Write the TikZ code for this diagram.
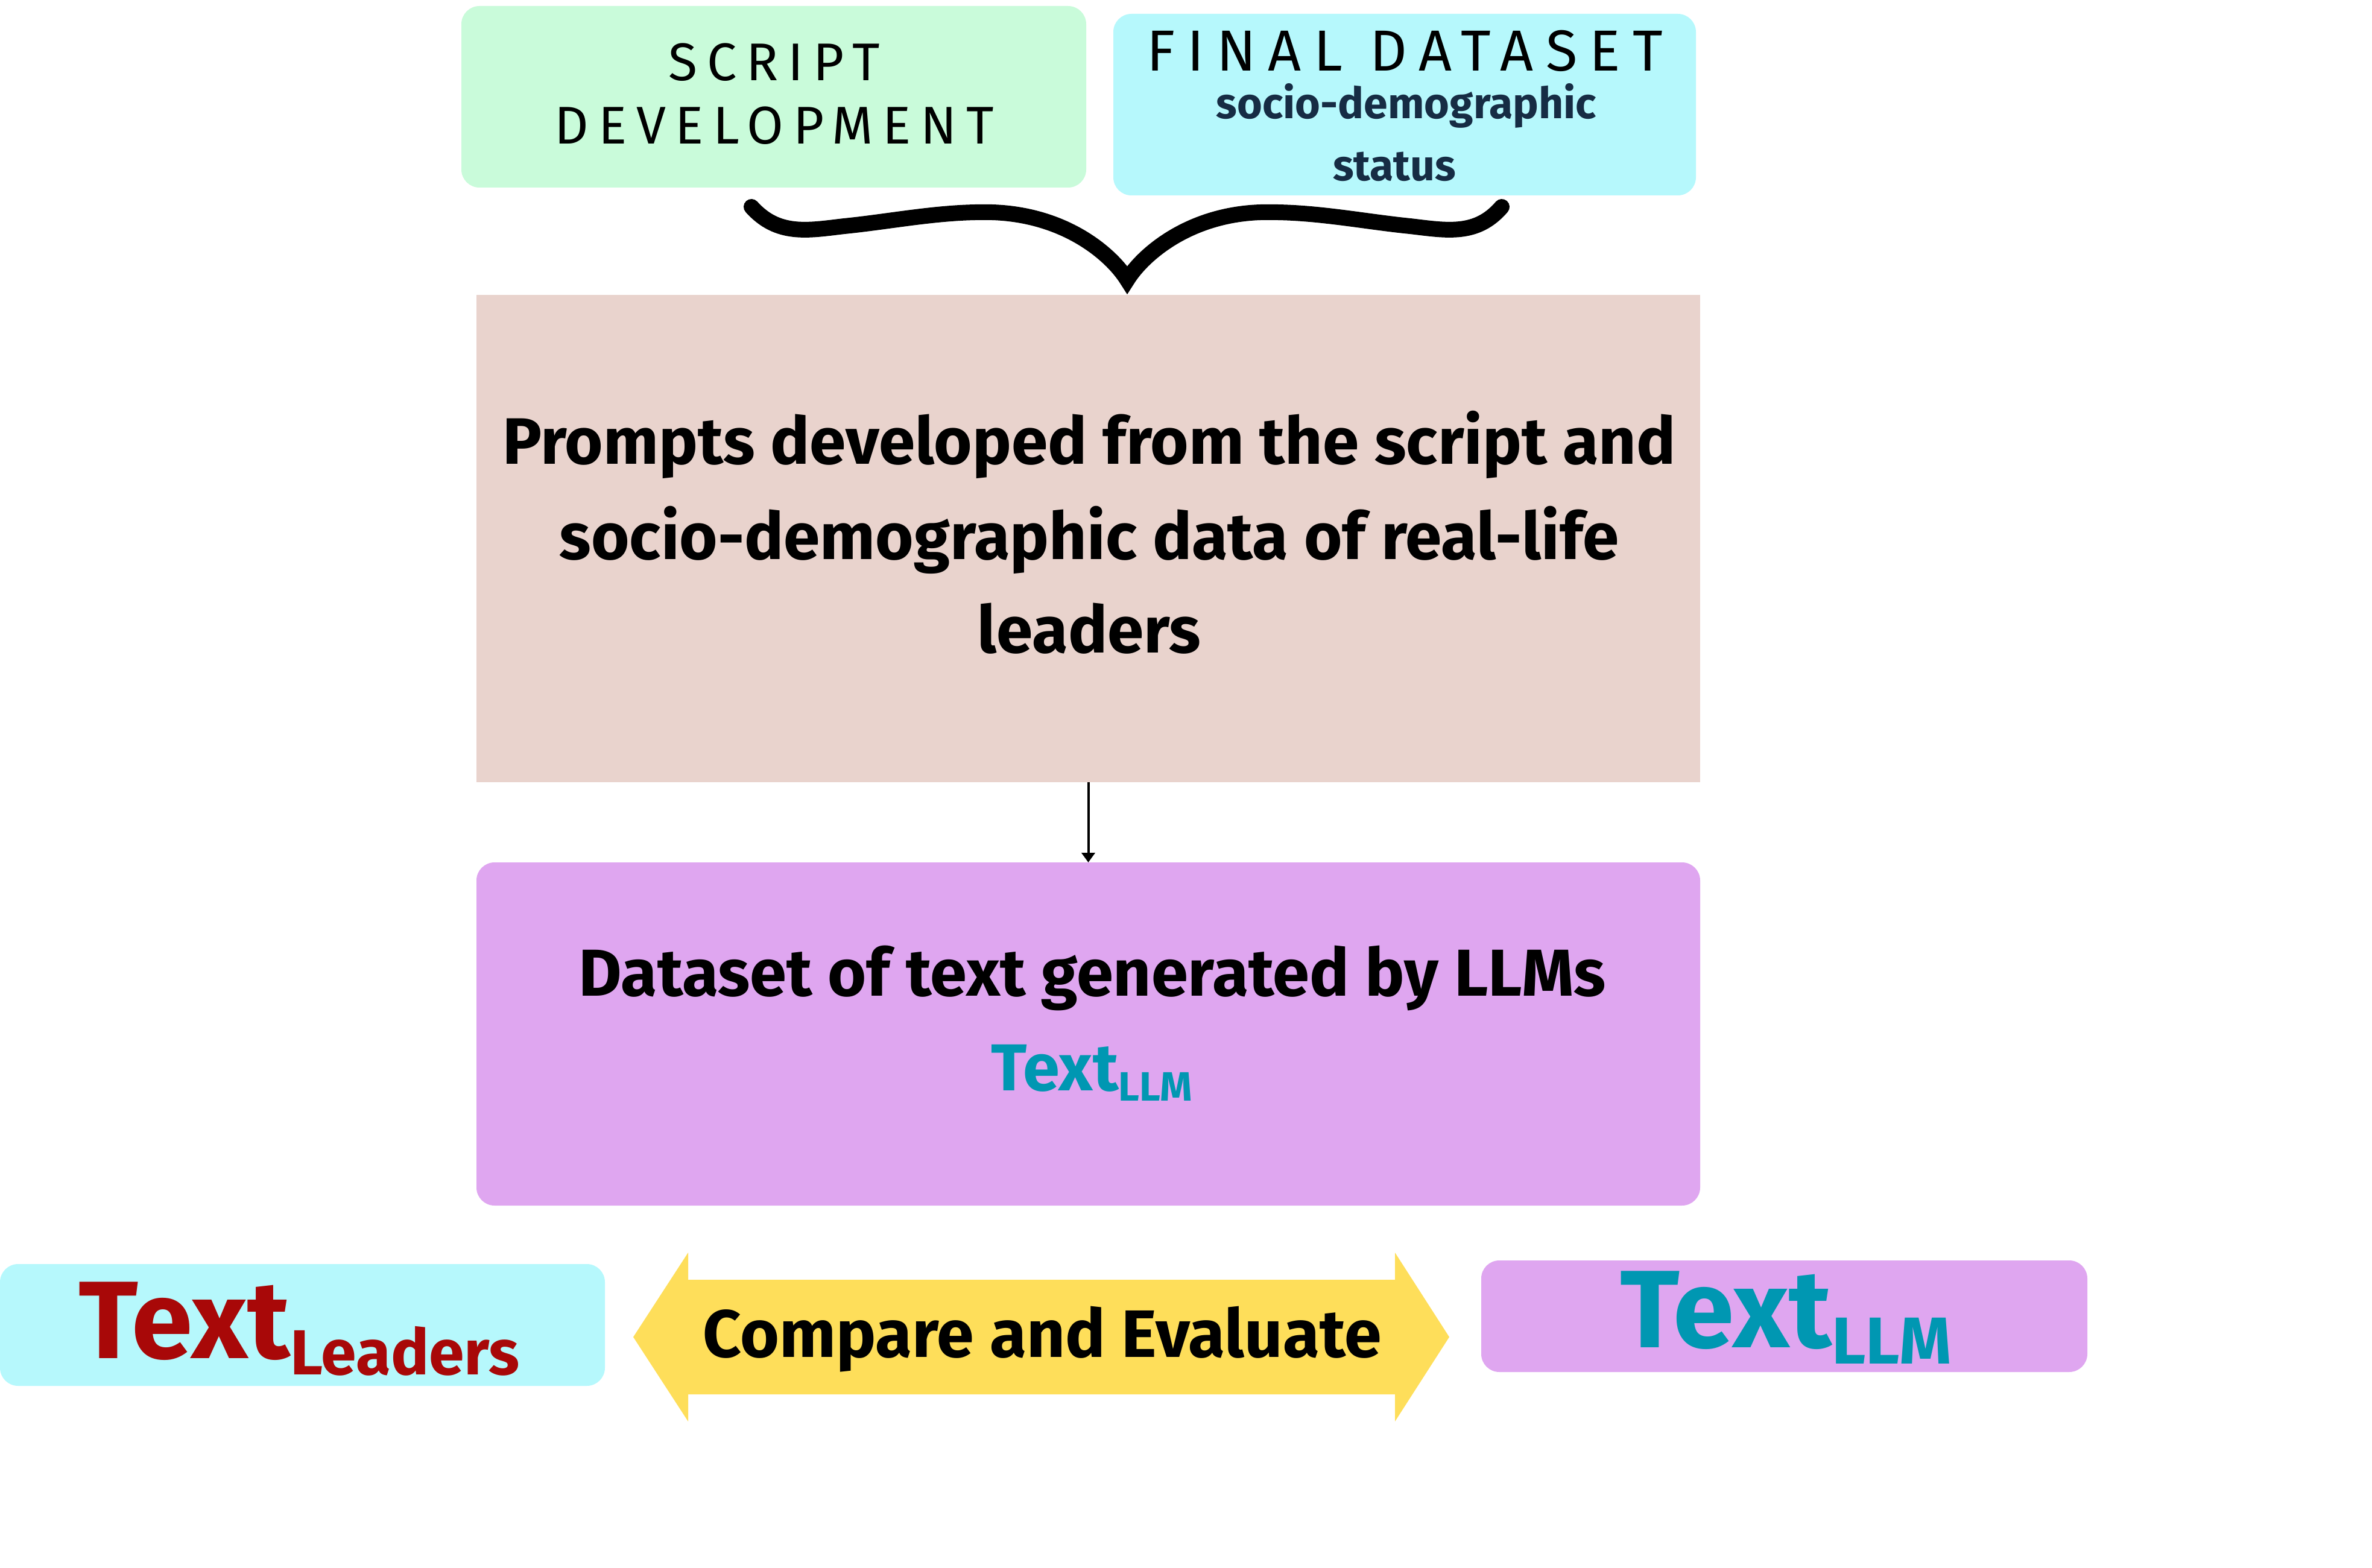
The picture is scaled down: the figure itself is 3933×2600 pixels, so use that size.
\documentclass[tikz,border=0pt]{standalone}
\usepackage{fontspec}
\setmainfont{Fira Sans}
\newfontfamily\lightfont[LetterSpace=18]{Fira Sans}
\newfontfamily\lightfontb[LetterSpace=21]{Fira Sans}
\usetikzlibrary{arrows.meta}
\definecolor{scriptc}{HTML}{C9FBDA}
\definecolor{cyanc}{HTML}{B6F8FC}
\definecolor{promptc}{HTML}{E9D3CD}
\definecolor{violetc}{HTML}{DFA6F0}
\definecolor{yellowc}{HTML}{FEDE5A}
\definecolor{tealc}{HTML}{0097B2}
\definecolor{redc}{HTML}{A80808}
\definecolor{navyc}{HTML}{162C44}
\begin{document}
\begin{tikzpicture}[x=0.25pt,y=-0.25pt,
  box/.style={draw=none, inner sep=0pt, outer sep=0pt, rounded corners=7.5pt},
  txt/.style={inner sep=0pt, outer sep=0pt, anchor=base},
  main/.style={txt, font=\fontsize{27.2}{39}\selectfont\bfseries},
  spaced/.style={txt, font=\lightfont\fontsize{22}{26}\selectfont},
  brace/.style={line width=6.5pt, line cap=round, line join=miter}]
\useasboundingbox (0,0) rectangle (3933,2600);

% boxes
\node[box, fill=scriptc, minimum width=259pt, minimum height=75.25pt] (script) at (1283,160.5) {};
\node[box, fill=cyanc, minimum width=241.5pt, minimum height=75.25pt] (final) at (2329,173.5) {};
\node[box, rounded corners=0pt, fill=promptc, minimum width=507.25pt, minimum height=202pt] (prompts) at (1804.5,893) {};
\node[box, fill=violetc, minimum width=507.25pt, minimum height=142.25pt] (dataset) at (1804.5,1714.5) {};
\node[box, fill=cyanc, minimum width=250.75pt, minimum height=50.5pt] (leadbox) at (501.5,2197) {};
\node[box, fill=violetc, minimum width=251.25pt, minimum height=46.25pt] (llmbox) at (2958.5,2182.5) {};

% top texts
\node[spaced] (s1) at (1284,134) {SCRIPT};
\node[spaced] (s2) at (1284,239) {DEVELOPMENT};
\node[spaced, font=\lightfontb\fontsize{24}{26}\selectfont] (f1) at (2329,118) {FINAL DATASET};
\node[txt, text=navyc, font=\fontsize{17.9}{25}\selectfont\bfseries] (f2) at (2332,197) {socio-demographic};
\node[txt, text=navyc, font=\fontsize{17.9}{25}\selectfont\bfseries] (f3) at (2312,300) {status};

% brace
\coordinate (bl) at (1246,343);
\coordinate (bt) at (1869,464);
\coordinate (br) at (2490,343);
\draw[brace] (bl) .. controls (1290,392) and (1340,382) .. (1400,375)
  .. controls (1480,367) and (1560,350) .. (1645,352)
  .. controls (1770,356) and (1845,425) .. (bt)
  .. controls (1893,425) and (1968,356) .. (2090,352)
  .. controls (2178,350) and (2258,367) .. (2338,375)
  .. controls (2398,382) and (2448,392) .. (br);

% prompts text
\node[main] (p1) at (1806,770) {Prompts developed from the script and};
\node[main] (p2) at (1806,927) {socio-demographic data of real-life};
\node[main] (p3) at (1806,1082) {leaders};

% arrow
\draw[line width=1pt, -{Triangle[width=5.5pt,length=4pt]}] (prompts.south) -- (dataset.north);

% dataset text
\node[main, font=\fontsize{27.5}{39}\selectfont\bfseries] (d1) at (1811,1651) {Dataset of text generated by LLMs};
\node[txt, text=tealc, font=\fontsize{27.5}{30}\selectfont\bfseries] (d2) at (1810,1808)
  {Text\raisebox{-4.25pt}{\fontsize{17}{18}\selectfont LLM}};

% double arrow
\coordinate (al) at (1050,2217);
\coordinate (ar) at (2403,2217);
\fill[yellowc] (al) -- (1141,2077) -- (1141,2122) -- (2313,2122) -- (2313,2077)
  -- (ar) -- (2313,2357) -- (2313,2312) -- (1141,2312) -- (1141,2357) -- cycle;
\node[main, font=\fontsize{27.8}{39}\selectfont\bfseries] (cmp) at (1728,2250) {Compare and Evaluate};

% bottom texts
\node[txt, anchor=base west, text=redc, font=\fontsize{45.7}{48}\selectfont\bfseries] (tl) at (130,2252)
  {Text\raisebox{-6.75pt}{\fontsize{26.4}{30}\selectfont Leaders}};
\node[txt, anchor=base west, text=tealc, font=\fontsize{45.7}{48}\selectfont\bfseries] (tm) at (2686,2234)
  {Text\raisebox{-6.75pt}{\fontsize{27.5}{30}\selectfont LLM}};
\end{tikzpicture}
\end{document}
